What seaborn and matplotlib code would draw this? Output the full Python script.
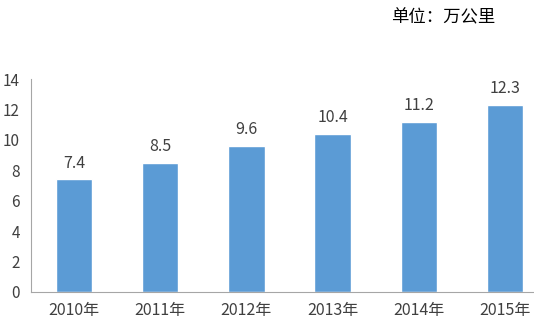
import matplotlib
matplotlib.use("Agg")
import matplotlib.pyplot as plt
import seaborn as sns
import pandas as pd

years = ["2010年", "2011年", "2012年", "2013年", "2014年", "2015年"]
values = [7.4, 8.5, 9.6, 10.4, 11.2, 12.3]
value_labels = ["7.4", "8.5", "9.6", "10.4", "11.2", "12.3"]
unit_text = "单位：万公里"

sns.set_style("white")
plt.rcParams['font.family'] = ['Noto Sans CJK SC', 'DejaVu Sans']

df = pd.DataFrame({"year": years, "value": values})

fig = plt.figure(figsize=(5.34, 3.30), dpi=100)
ax = fig.add_axes([31/534, 38/330, 517/534, 213/330])
sns.barplot(data=df, x="year", y="value", color="#5B9BD5", width=0.42,
            saturation=1, ax=ax)

ax.set_ylim(0, 14)
ax.set_xlim(-0.5, len(years) - 0.5)
ax.set_yticks(range(0, 15, 2))
ax.set_xlabel("")
ax.set_ylabel("")

for i, (v, lab) in enumerate(zip(values, value_labels)):
    ax.text(i, v + 0.5, lab, ha="center", va="bottom", fontsize=11.5, color="#404040")

for s in ["top", "right"]:
    ax.spines[s].set_visible(False)
for s in ["left", "bottom"]:
    ax.spines[s].set_color("#A6A6A6")
    ax.spines[s].set_linewidth(0.8)

ax.set_xticks([i + 0.5 for i in range(-1, len(years))], minor=True)
ax.tick_params(axis="x", which="major", length=0, labelsize=11.5, colors="#404040", pad=7)
ax.tick_params(axis="x", which="minor", length=4, color="#A6A6A6", direction="out")
ax.tick_params(axis="y", length=4, color="#A6A6A6", labelsize=11, labelcolor="#404040", pad=4)

fig.text(443/534, 1 - 17/330, unit_text, ha="center", va="center", fontsize=12.5, color="#000000")

fig.savefig("out.png", dpi=100)
